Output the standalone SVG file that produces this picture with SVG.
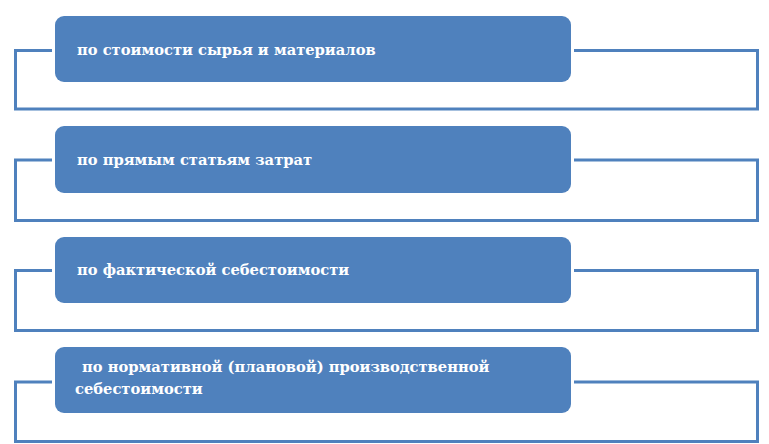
<svg xmlns="http://www.w3.org/2000/svg" width="769" height="444" viewBox="0 0 769 444">
<style>
.frame{fill:none;stroke:#4F81BD;stroke-width:3}
.gap{fill:#FFFFFF}
.box{fill:#4F81BD}
.lbl{fill:#FFFFFF;font-family:'DejaVu Serif','Liberation Serif',serif;font-weight:700;font-size:14.7px}
</style>
<rect width="769" height="444" fill="#FFFFFF"/>
<g id="connectors">
<rect class="frame" x="15.5" y="50.5" width="742" height="58.5"/>
<rect class="frame" x="15.5" y="160" width="742" height="60.5"/>
<rect class="frame" x="15.5" y="270.5" width="742" height="60"/>
<rect class="frame" x="15.5" y="382" width="742" height="59.5"/>
</g>
<g id="node1">
<rect class="gap" x="52" y="13" width="522" height="72" rx="12"/>
<rect class="box" x="55" y="16" width="516" height="66" rx="9"/>
<text class="lbl" x="77" y="55">по стоимости сырья и материалов</text>
</g>
<g id="node2">
<rect class="gap" x="52" y="123" width="522" height="73" rx="12"/>
<rect class="box" x="55" y="126" width="516" height="67" rx="9"/>
<text class="lbl" x="77" y="165">по прямым статьям затрат</text>
</g>
<g id="node3">
<rect class="gap" x="52" y="234" width="522" height="72" rx="12"/>
<rect class="box" x="55" y="237" width="516" height="66" rx="9"/>
<text class="lbl" x="77" y="275">по фактической себестоимости</text>
</g>
<g id="node4">
<rect class="gap" x="52" y="344" width="522" height="72" rx="12"/>
<rect class="box" x="55" y="347" width="516" height="66" rx="9"/>
<text class="lbl" x="77" y="372" xml:space="preserve"> по нормативной (плановой) производственной</text>
<text class="lbl" x="75" y="394">себестоимости</text>
</g>
</svg>
